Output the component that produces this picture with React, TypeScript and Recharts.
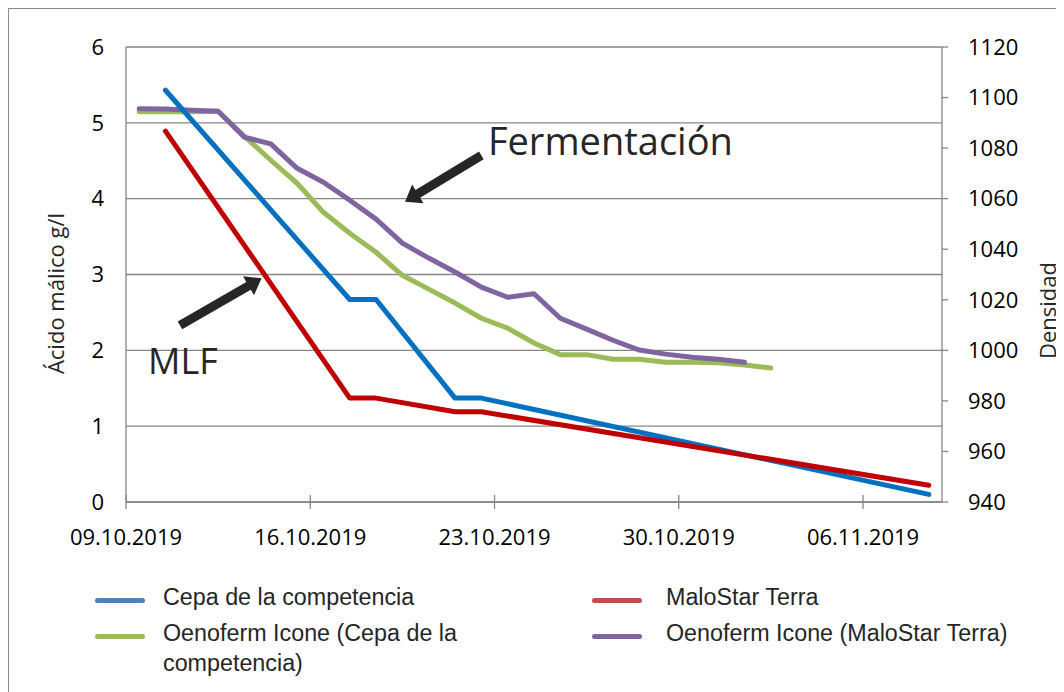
import React from 'react';
import { LineChart, Line, XAxis, YAxis, CartesianGrid, ReferenceLine, ReferenceDot } from 'recharts';

// day index 0 = 09.10.2019 (one slot per day, points sit in the middle of the slot)
const days = [0, 1, 2, 3, 4, 5, 6, 7, 8, 9, 10, 11, 12, 13, 14, 15, 16, 17, 18, 19, 20, 21, 22, 23, 24, 25, 26, 27, 28, 29, 30];
const xTickDays = [-0.5, 6.5, 13.5, 20.5, 27.5];
const xTickLabels = ['09.10.2019', '16.10.2019', '23.10.2019', '30.10.2019', '06.11.2019'];
const acidTicks = [0, 1, 2, 3, 4, 5, 6];
const densityTicks = [940, 960, 980, 1000, 1020, 1040, 1060, 1080, 1100, 1120];

// malic acid g/l (left axis)
const cepaCompetencia = [null, 5.43, null, null, null, null, null, null, 2.67, 2.67, null, null, 1.37, 1.37, null, null, null, null, null, null, null, null, null, null, null, null, null, null, null, null, 0.1];
const maloStarTerra = [null, 4.89, null, null, null, null, null, null, 1.37, 1.37, null, null, 1.19, 1.19, null, null, null, null, null, null, null, null, null, null, null, null, null, null, null, null, 0.22];

// density (right axis)
const iconeCepa = [1094.4, 1094.4, 1094.4, 1094.6, 1084.7, 1075.2, 1066.1, 1054.6, 1046.3, 1038.8, 1029.7, 1024.2, 1018.7, 1012.7, 1008.8, 1002.9, 998.3, 998.3, 996.5, 996.5, 995.3, 995.3, 995.1, 994.2, 993.0];
const iconeMaloStar = [1095.6, 1095.5, 1095.0, 1094.6, 1084.3, 1081.7, 1072.0, 1066.5, 1059.4, 1051.9, 1042.4, 1036.5, 1031.0, 1025.0, 1021.0, 1022.4, 1012.7, 1008.4, 1004.0, 1000.1, 998.5, 997.3, 996.5, 995.3];

const data = days.map((d, i) => ({
  day: d,
  cepa: cepaCompetencia[i],
  malo: maloStarTerra[i],
  iconeCepa: iconeCepa[i] ?? null,
  iconeMalo: iconeMaloStar[i] ?? null,
}));

// legend order (row by row) and line draw order are different
const legendItems = [
  { name: 'Cepa de la competencia', color: '#4F81BD' },
  { name: 'MaloStar Terra', color: '#C0504D' },
  { name: 'Oenoferm Icone (Cepa de la competencia)', color: '#9BBB59' },
  { name: 'Oenoferm Icone (MaloStar Terra)', color: '#8064A2' },
];

const FONT = '"Open Sans", sans-serif';
const GRID = '#868686';

const Arrow = (p: any) => {
  const { x1, y1, x2, y2 } = p;
  const dx = x2 - x1;
  const dy = y2 - y1;
  const len = Math.hypot(dx, dy);
  const ux = dx / len;
  const uy = dy / len;
  const nx = -uy;
  const ny = ux;
  const shaft = 4.5;
  const head = 11;
  const headLen = 15;
  const bx = x2 - ux * headLen;
  const by = y2 - uy * headLen;
  const pts = [
    [x1 + nx * shaft, y1 + ny * shaft],
    [bx + nx * shaft, by + ny * shaft],
    [bx + nx * head, by + ny * head],
    [x2, y2],
    [bx - nx * head, by - ny * head],
    [bx - nx * shaft, by - ny * shaft],
    [x1 - nx * shaft, y1 - ny * shaft],
  ];
  return <polygon points={pts.map((q) => q.join(',')).join(' ')} fill="#262626" />;
};

const XTick = (props: any) => {
  const { x, y, payload } = props;
  const idx = xTickDays.indexOf(payload.value);
  return (
    <g>
      <line x1={x} x2={x} y1={y - 7} y2={y + 7} stroke={GRID} strokeWidth={1.3} />
      <text x={x} y={y + 43} textAnchor="middle" fontSize={22} fontFamily={FONT} fill="#000">
        {xTickLabels[idx]}
      </text>
    </g>
  );
};

const axisTitle = (text: string, dx: number, dy: number) => (props: any) => {
  const vb = props.viewBox;
  const cx = vb.x + dx;
  const cy = vb.y + vb.height / 2 + dy;
  return (
    <text
      x={cx}
      y={cy}
      transform={`rotate(-90, ${cx}, ${cy})`}
      textAnchor="middle"
      dominantBaseline="central"
      fontSize={22}
      fontFamily={FONT}
      fill="#262626"
    >
      {text}
    </text>
  );
};

const annotationText = (text: string, size: number) => (p: any) => (
  <text x={p.cx} y={p.cy} fontSize={size} fontFamily={FONT} fill="#262626">
    {text}
  </text>
);

export default function App() {
  return (
    <div
      style={{
        position: 'relative',
        width: 1056,
        height: 684,
        borderLeft: '1px solid #8a8a8a',
        borderTop: '1px solid #8a8a8a',
        boxSizing: 'border-box',
        overflow: 'hidden',
        background: '#fff',
      }}
    >
      <div style={{ position: 'absolute', left: 0, top: 0 }}>
        <LineChart
          width={1055}
          height={683}
          data={data}
          margin={{ top: 38, right: 22, bottom: 150, left: 0 }}
          style={{ fontFamily: FONT }}
        >
          <CartesianGrid yAxisId="left" vertical={false} stroke={GRID} strokeWidth={1.3} />
          <XAxis
            dataKey="day"
            type="number"
            domain={[-0.5, 30.5]}
            ticks={xTickDays}
            interval={0}
            height={40}
            tickSize={0}
            tickMargin={0}
            tickLine={false}
            axisLine={{ stroke: GRID, strokeWidth: 1.3 }}
            tick={<XTick />}
            allowDataOverflow
          />
          <YAxis
            yAxisId="left"
            domain={[0, 6]}
            ticks={acidTicks}
            width={117}
            tickLine={false}
            tickSize={6}
            tickMargin={16}
            axisLine={{ stroke: GRID, strokeWidth: 1.3 }}
            tick={{ fontSize: 22, fill: '#000', fontFamily: FONT }}
            label={axisTitle('Ácido málico g/l', 46, 19)}
          />
          <YAxis
            yAxisId="right"
            orientation="right"
            domain={[940, 1120]}
            ticks={densityTicks}
            width={100}
            tickSize={6}
            tickMargin={20}
            tickLine={{ stroke: GRID, strokeWidth: 1.3 }}
            axisLine={{ stroke: GRID, strokeWidth: 1.3 }}
            tick={{ fontSize: 22, fill: '#000', fontFamily: FONT, textAnchor: 'start' }}
            label={axisTitle('Densidad', 105, 36)}
          />
          <Line yAxisId="right" dataKey="iconeCepa" name="Oenoferm Icone (Cepa de la competencia)" stroke="#9BBB59" strokeWidth={5} strokeLinecap="round" strokeLinejoin="round" dot={false} isAnimationActive={false} />
          <Line yAxisId="right" dataKey="iconeMalo" name="Oenoferm Icone (MaloStar Terra)" stroke="#8064A2" strokeWidth={5} strokeLinecap="round" strokeLinejoin="round" dot={false} isAnimationActive={false} />
          <Line yAxisId="left" dataKey="cepa" name="Cepa de la competencia" stroke="#0070C0" strokeWidth={5} strokeLinecap="round" strokeLinejoin="round" dot={false} connectNulls isAnimationActive={false} />
          <Line yAxisId="left" dataKey="malo" name="MaloStar Terra" stroke="#C00000" strokeWidth={5} strokeLinecap="round" strokeLinejoin="round" dot={false} connectNulls isAnimationActive={false} />

          {/* annotations */}
          <ReferenceLine yAxisId="left" segment={[{ x: 13.0, y: 4.57 }, { x: 10.1, y: 3.96 }]} shape={Arrow} />
          <ReferenceLine yAxisId="left" segment={[{ x: 1.55, y: 2.33 }, { x: 4.65, y: 2.95 }]} shape={Arrow} />
          <ReferenceDot yAxisId="left" x={13.25} y={4.57} r={0} shape={annotationText('Fermentación', 38)} />
          <ReferenceDot yAxisId="left" x={0.34} y={1.69} r={0} shape={annotationText('MLF', 36)} />
        </LineChart>
      </div>

      {/* legend, two columns */}
      {legendItems.map((item, i) => {
        const col = i % 2;
        const row = Math.floor(i / 2);
        const iconLeft = col === 0 ? 86 : 583;
        const textLeft = col === 0 ? 154 : 657;
        const top = row === 0 ? 573 : 609;
        return (
          <React.Fragment key={item.name}>
            <div
              style={{
                position: 'absolute',
                left: iconLeft,
                top: top + 16,
                width: 50,
                height: 5,
                borderRadius: 3,
                background: item.color,
              }}
            />
            <div
              style={{
                position: 'absolute',
                left: textLeft,
                top,
                width: col === 0 ? 310 : 390,
                fontFamily: '"Liberation Sans", Arial, sans-serif',
                fontSize: 23.3,
                lineHeight: '30px',
                color: '#262626',
              }}
            >
              {item.name}
            </div>
          </React.Fragment>
        );
      })}
    </div>
  );
}
